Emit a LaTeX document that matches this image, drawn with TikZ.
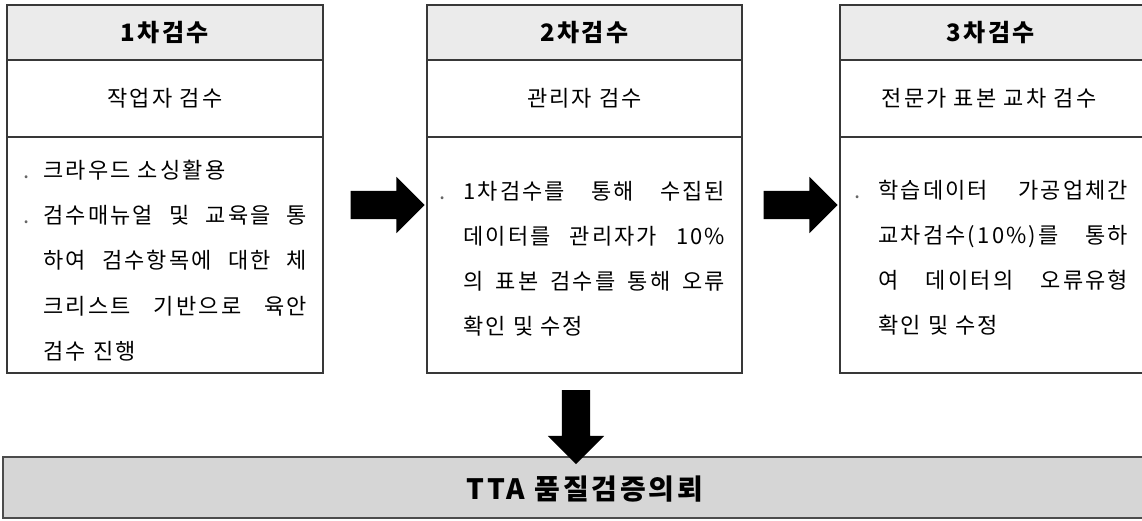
\documentclass[tikz,border=0pt]{standalone}
\usepackage{fontspec}
\setmainfont{Noto Sans CJK KR}[LetterSpace=10]
\usetikzlibrary{shapes.arrows}
\newcommand{\dotmark}[1]{\leavevmode\llap{\textcolor{black!60}{.}\hspace{#1}}}
\tikzset{
  boxline/.style={draw=black!78, line width=1.8pt},
  headbox/.style={boxline, fill=black!8, inner sep=0pt, font=\bfseries\fontsize{24}{26}\selectfont},
  subbox/.style={boxline, fill=white, inner sep=0pt, font=\fontsize{22}{26}\selectfont},
  bodybox/.style={boxline, fill=white, inner sep=0pt},
  barbox/.style={draw=black!70, line width=2.4pt, fill=black!16, inner sep=0pt},
  bodytext/.style={inner sep=0pt, anchor=base west, font=\fontsize{22}{45}\selectfont},
  blockarrow/.style={single arrow, fill=black, draw=none, inner xsep=0pt, inner ysep=14pt,
    minimum height=74pt, single arrow head extend=14pt,
    single arrow tip angle=90},
}
\begin{document}
\begin{tikzpicture}[x=1pt,y=-1pt]
\useasboundingbox (0,0) rectangle (1142,521);
% box 1
\node[bodybox, minimum width=316pt, minimum height=236pt] (b1) at (165,255) {};
\node[subbox, minimum width=316pt, minimum height=77pt] (s1) at (165,98.5) {작업자 검수};
\node[headbox, minimum width=316pt, minimum height=55pt] (h1) at (165,32.5) {1차검수};
\node[bodytext] (t1) at (43,179) {\begin{minipage}[t]{264pt}\baselineskip=45pt
\dotmark{14pt}크라우드 소싱활용\\
\makebox[\linewidth][s]{\dotmark{14pt}검수매뉴얼 및 교육을 통}\\
\makebox[\linewidth][s]{하여 검수항목에 대한 체}\\
\makebox[\linewidth][s]{크리스트 기반으로 육안}\\
검수 진행
\end{minipage}};
% box 2
\node[bodybox, minimum width=315pt, minimum height=236pt] (b2) at (584.5,255) {};
\node[subbox, minimum width=315pt, minimum height=77pt] (s2) at (584.5,98.5) {관리자 검수};
\node[headbox, minimum width=315pt, minimum height=55pt] (h2) at (584.5,32.5) {2차검수};
\node[bodytext] (t2) at (463,200) {\begin{minipage}[t]{262pt}\baselineskip=45pt
\makebox[\linewidth][s]{\dotmark{18pt}1차검수를 통해 수집된}\\
\makebox[\linewidth][s]{데이터를 관리자가 10\%}\\
\makebox[\linewidth][s]{의 표본 검수를 통해 오류}\\
확인 및 수정
\end{minipage}};
% box 3
\node[bodybox, minimum width=310pt, minimum height=236pt] (b3) at (995,255) {};
\node[subbox, minimum width=310pt, minimum height=77pt] (s3) at (995,98.5) {};
\node[headbox, minimum width=310pt, minimum height=55pt] (h3) at (995,32.5) {};
\node[font=\bfseries\fontsize{24}{26}\selectfont, inner sep=0pt] (h3t) at (991,32.5) {3차검수};
\node[font=\fontsize{22}{26}\selectfont, inner sep=0pt] (s3t) at (989,98.5) {전문가 표본 교차 검수};
\node[bodytext] (t3) at (878,199) {\begin{minipage}[t]{250pt}\baselineskip=45pt
\makebox[\linewidth][s]{\dotmark{18pt}학습데이터 가공업체간}\\
\makebox[\linewidth][s]{교차검수(10\%)를 통하}\\
\makebox[\linewidth][s]{여 데이터의 오류유형}\\
확인 및 수정
\end{minipage}};
% bottom bar
\node[barbox, minimum width=1147pt, minimum height=61pt] (bar) at (576.5,487.5) {};
\node[font=\bfseries\fontsize{28}{30}\selectfont, inner sep=0pt] (tta) at (585,489) {TTA 품질검증의뢰};
% arrows
\node[blockarrow] (a1) at (380.5,205) {};
\node[blockarrow] (a2) at (793.5,205) {};
\node[blockarrow, shape border rotate=270, inner xsep=14pt, inner ysep=0pt] (a3) at (576,420) {};
\end{tikzpicture}
\end{document}
